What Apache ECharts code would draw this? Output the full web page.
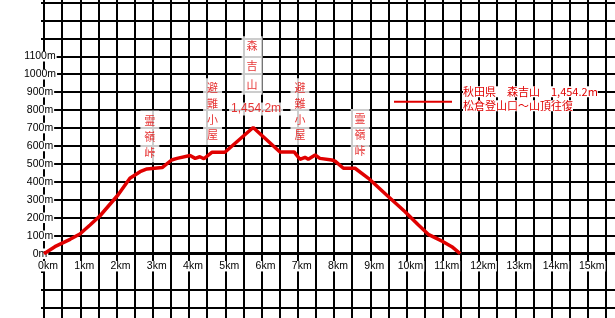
<!DOCTYPE html>
<html><head><meta charset="utf-8">
<script src="https://cdn.jsdelivr.net/npm/echarts@6/dist/echarts.min.js"></script>
<style>html,body{margin:0;padding:0;background:#fff}#c{width:615px;height:318px}</style>
</head><body><div id="c"></div>
<script>
// ---- data ----
const distanceKm = [0, 0.30, 0.72, 0.99, 1.27, 1.54, 2.04, 2.37, 2.65, 2.84, 3.26, 3.52, 3.67, 4.03, 4.17, 4.30, 4.41, 4.63, 4.99, 5.77, 6.51, 6.90, 7.06, 7.20, 7.29, 7.48, 7.61, 7.94, 8.03, 8.26, 8.58, 8.95, 9.45, 9.96, 10.33, 10.60, 11.01, 11.25, 11.48];
const elevationM = [0, 39, 80, 110, 160, 210, 327, 420, 457, 472, 480, 522, 531, 547, 531, 540, 529, 565, 565, 703, 567, 567, 526, 537, 526, 550, 531, 522, 516, 476, 476, 420, 327, 234, 160, 108, 67, 39, 0];
const xTickKm = [0,1,2,3,4,5,6,7,8,9,10,11,12,13,14,15];
const yTickM = [0,100,200,300,400,500,600,700,800,900,1000,1100];
const seriesName = '秋田県　森吉山　1,454.2m\n松倉登山口～山頂往復';
const annotationText = ['森\n吉\n山', '1,454.2m', '避\n難\n小\n屋', '避\n難\n小\n屋', '霊\n嶺\n峠', '霊\n嶺\n峠'];
const annotationKm = [5.74, 5.85, 4.65, 7.06, 2.92, 8.72];
const annotationM = [1048, 806, 792, 792, 653, 661];

// ---- styles ----
const RED = '#e00000';
const JP = '"Noto Sans CJK JP", sans-serif';
const LAT = '"Liberation Sans", "Noto Sans CJK JP", sans-serif';
const annotationStyle = [
  {lineHeight: 19.5, padding: [0, 5], fontFamily: JP, fontSize: 11},
  {lineHeight: 13, padding: [0, 2], fontFamily: LAT, fontSize: 12},
  {lineHeight: 15.7, padding: [2, 4], fontFamily: JP, fontSize: 11},
  {lineHeight: 15.7, padding: [2, 4], fontFamily: JP, fontSize: 11},
  {lineHeight: 16, padding: [2, 4], fontFamily: JP, fontSize: 11},
  {lineHeight: 16, padding: [2, 4], fontFamily: JP, fontSize: 11}
];

const yMin = -400, yMax = 1500, yStep = 100;
const splitColors = [];
for (let v = yMin; v <= yMax; v += yStep) splitColors.push(v === -100 ? 'rgba(0,0,0,0)' : '#000');

const xLabelFormatter = v => {
  const r = Math.round(v);
  if (Math.abs(v - r) < 1e-6 && xTickKm.indexOf(r) >= 0) return '{s| }{a|' + r + 'km}';
  return '';
};

const chart = echarts.init(document.getElementById('c'), null, {renderer: 'canvas'});
chart.setOption({
  animation: false,
  backgroundColor: '#fff',
  grid: [
    {left: 44, right: -9, top: -15.55, bottom: -7.5, containLabel: false, outerBoundsMode: 'none'},
    {left: 44, right: -9, top: 0, bottom: 318 - 253.7, containLabel: false, outerBoundsMode: 'none'}
  ],
  xAxis: [{
    type: 'value', min: 0, max: 16, interval: 0.5, gridIndex: 0,
    axisLine: {show: true, onZero: true, lineStyle: {color: '#000', width: 3}},
    axisTick: {show: false},
    splitLine: {show: true, lineStyle: {color: '#000', width: 2}},
    axisLabel: {show: false}
  }, {
    type: 'value', min: 0, max: 16, interval: 0.5, gridIndex: 1, position: 'bottom',
    axisLine: {show: false, onZero: false},
    axisTick: {show: false},
    splitLine: {show: false},
    axisLabel: {
      margin: 5.5,
      formatter: xLabelFormatter,
      rich: {
        s: {width: 8},
        a: {backgroundColor: '#fff', color: '#000', fontFamily: LAT, fontSize: 10.5, lineHeight: 14, padding: [0, 1]}
      }
    }
  }],
  yAxis: [{
    type: 'value', min: yMin, max: yMax, interval: yStep, gridIndex: 0,
    axisLine: {show: true, lineStyle: {color: '#000', width: 2}},
    axisTick: {show: true, length: 3, lineStyle: {color: '#000', width: 2}},
    splitLine: {show: true, lineStyle: {color: splitColors, width: 2}},
    axisLabel: {
      margin: 4, align: 'center',
      formatter: v => yTickM.indexOf(Math.round(v)) >= 0 ? '{a|' + Math.round(v) + 'm}' : '',
      rich: {
        a: {backgroundColor: '#fff', color: '#000', fontFamily: LAT, fontSize: 10.5, lineHeight: 13, padding: [0, 1]}
      }
    }
  }, {
    type: 'value', min: 0, max: 1, gridIndex: 1, show: false
  }],
  legend: {
    data: [{name: seriesName, icon: 'rect'}], left: 394, top: 84.7, padding: 0,
    itemWidth: 58, itemHeight: 2, selectedMode: false,
    itemStyle: {color: RED},
    formatter: name => name.split('\n').map(l => '{s| }{a|' + l + '}').join('\n'),
    textStyle: {
      color: RED, fontFamily: JP, fontSize: 11, lineHeight: 14, padding: [0, 0, 6, 0],
      rich: {
        s: {width: 6},
        a: {backgroundColor: '#fff', color: RED, fontFamily: JP, fontSize: 11, lineHeight: 14}
      }
    }
  },
  series: [
    {
      name: seriesName, type: 'line', symbol: 'none', smooth: false,
      xAxisIndex: 0, yAxisIndex: 0,
      lineStyle: {color: RED, width: 3.5}, itemStyle: {color: RED},
      data: distanceKm.map((d, i) => [d, elevationM[i]]),
      z: 3
    },
    {
      name: 'annotations', type: 'scatter', symbolSize: 1,
      xAxisIndex: 0, yAxisIndex: 0,
      itemStyle: {color: 'rgba(0,0,0,0)'},
      silent: true, z: 4,
      label: {show: true, position: 'inside', color: RED, backgroundColor: '#fff', formatter: p => p.name},
      data: annotationText.map((t, i) => ({
        name: t, value: [annotationKm[i], annotationM[i]],
        label: Object.assign({color: RED, backgroundColor: '#fff'}, annotationStyle[i])
      }))
    }
  ]
});
</script></body></html>
